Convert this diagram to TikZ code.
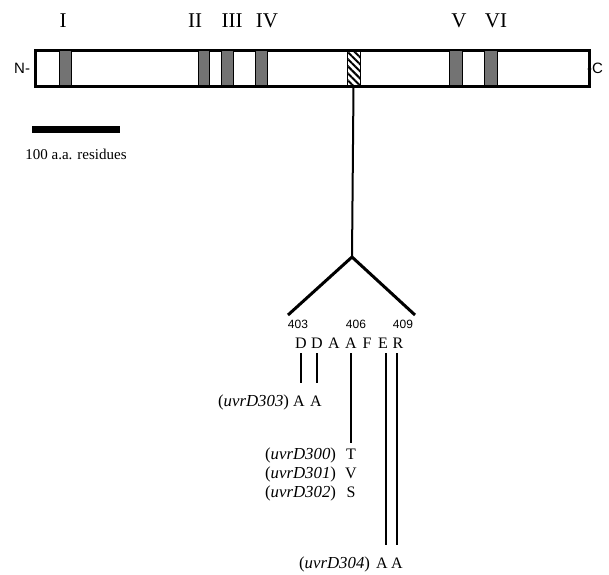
\documentclass[tikz,border=0pt]{standalone}
\usepackage{fontspec}
\setmainfont{Liberation Serif}
\newfontfamily\arialf{Liberation Sans}
\usetikzlibrary{patterns.meta}
\begin{document}
\begin{tikzpicture}[x=1pt,y=-1pt,
  txt/.style={inner sep=0pt,outer sep=0pt,anchor=base},
  roman/.style={txt,font=\fontsize{21}{21}\selectfont},
  res/.style={txt,font=\fontsize{16}{16}\selectfont},
  gname/.style={txt,anchor=base east,font=\fontsize{16.8}{17}\selectfont},
  num/.style={txt,font=\arialf\fontsize{12}{12}\selectfont},
  motif/.style={draw=black,line width=0.9pt,fill=black!55,inner sep=0pt,minimum height=35pt,anchor=north west},
  hatch/.style={draw=black,line width=1pt,inner sep=0pt,minimum height=35pt,anchor=north west,
    pattern={Lines[angle=-45,distance=5pt,line width=2pt]}},
  conn/.style={line width=2.2pt},
  fork/.style={line width=3pt}]
\useasboundingbox (0,0) rectangle (609,574);
% protein bar
\node[draw=black,line width=2pt,inner sep=0pt,minimum width=553pt,minimum height=35pt,anchor=north west] (bar) at (35,50) {};
\node[motif,minimum width=12pt] (m1) at (59,50) {};
\node[motif,minimum width=11pt] (m2) at (198,50) {};
\node[motif,minimum width=12pt] (m3) at (221,50) {};
\node[motif,minimum width=12pt] (m4) at (255,50) {};
\node[motif,minimum width=13pt] (m5) at (449,50) {};
\node[motif,minimum width=13pt] (m6) at (484,50) {};
\node[hatch,minimum width=13pt] (h) at (346,50) {};
\draw[line width=2pt] (bar.north west) rectangle (bar.south east);
% roman labels
\node[roman] (l1) at (63,27) {I};
\node[roman] (l2) at (195,27) {II};
\node[roman] (l3) at (232,27) {III};
\node[roman] (l4) at (267,27) {IV};
\node[roman] (l5) at (459,27) {V};
\node[roman] (l6) at (496,27) {VI};
\node[txt,anchor=base east,font=\arialf\fontsize{15}{15}\selectfont] (nterm) at (30,73) {N-};
\node[txt,anchor=base west,font=\arialf\fontsize{15}{15}\selectfont] (cterm) at (587,73) {-C};
% scale bar
\node[fill=black,inner sep=0pt,minimum width=88pt,minimum height=7pt] (scale) at (76,129.5) {};
\node[txt,font=\fontsize{15}{15}\selectfont] (scaletxt) at (76,159) {100 a.a. residues};
% fork
\coordinate (fk) at (352,257);
\coordinate (fl) at (288,315);
\coordinate (fr) at (415,315);
\draw[line width=2pt] (h.south) -- (fk);
\draw[fork,line join=miter] (fl) -- (fk) -- (fr);
% numbers
\node[num] (n403) at (298,328) {403};
\node[num] (n406) at (356,328) {406};
\node[num] (n409) at (403,328) {409};
% residues
\node[res] (r1) at (301,348) {D};
\node[res] (r2) at (317,348) {D};
\node[res] (r3) at (334,348) {A};
\node[res] (r4) at (351,348) {A};
\node[res] (r5) at (367,348) {F};
\node[res] (r6) at (383,348) {E};
\node[res] (r7) at (398,348) {R};
% uvrD303
\node[gname] (g303) at (289,406) {(\textit{uvrD303})};
\node[res] (a303a) at (299,406) {A};
\node[res] (a303b) at (316,406) {A};
% uvrD300-302
\node[gname] (g300) at (336,459) {(\textit{uvrD300})};
\node[gname] (g301) at (336,478) {(\textit{uvrD301})};
\node[gname] (g302) at (336,497) {(\textit{uvrD302})};
\node[res] (t300) at (351,459) {T};
\node[res] (v301) at (351,478) {V};
\node[res] (s302) at (351,497) {S};
% uvrD304
\node[gname] (g304) at (370,568) {(\textit{uvrD304})};
\node[res] (a304a) at (382,568) {A};
\node[res] (a304b) at (397,568) {A};
% connectors
\draw[conn] ([yshift=-5pt]r1.south) -- ([yshift=12pt]r1.south |- a303a.north);
\draw[conn] ([yshift=-5pt]r2.south) -- ([yshift=12pt]r2.south |- a303b.north);
\draw[conn] ([yshift=-5pt]r4.south) -- ([yshift=6pt]r4.south |- t300.north);
\draw[conn] ([xshift=3pt,yshift=-5pt]r6.south) -- ([xshift=3pt,yshift=12pt]r6.south |- a304a.north);
\draw[conn] ([xshift=-1pt,yshift=-5pt]r7.south) -- ([xshift=-1pt,yshift=12pt]r7.south |- a304b.north);
\end{tikzpicture}
\end{document}
